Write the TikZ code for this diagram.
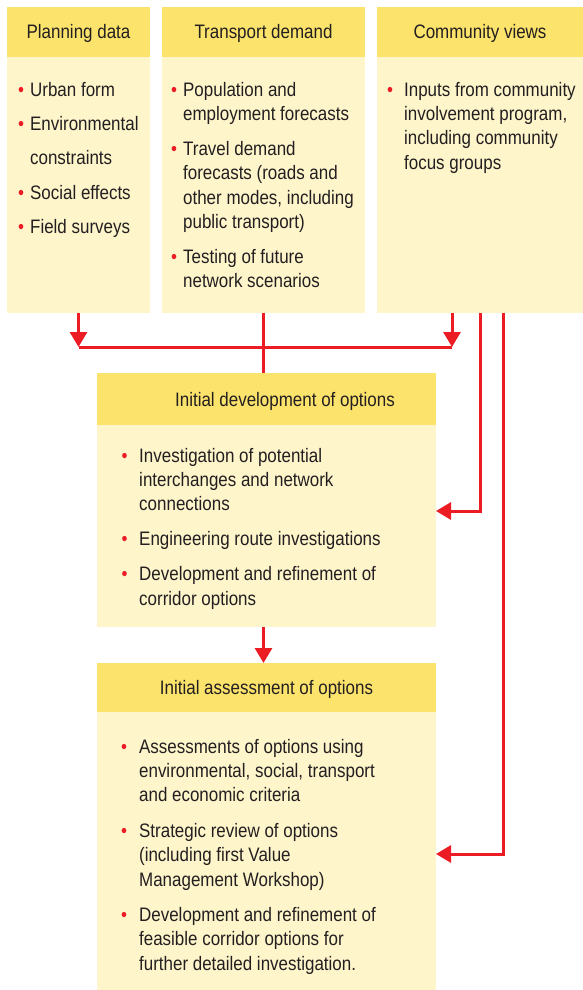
\documentclass[tikz,border=0pt]{standalone}
\usepackage{fontspec}
\setmainfont{Liberation Sans}[FakeStretch=0.87]
\usepackage{tikz}
\usetikzlibrary{arrows.meta,positioning}
\definecolor{headyellow}{HTML}{FCE36C}
\definecolor{bodyyellow}{HTML}{FEF5CB}
\definecolor{linered}{HTML}{EC1C24}
\definecolor{textgrey}{HTML}{231F20}
\tikzset{headbox/.style={fill=headyellow, inner sep=0pt, outer sep=0pt,
    anchor=north west, text=textgrey, text height=14pt, text depth=0pt}}
\tikzset{bodybox/.style={fill=bodyyellow, inner sep=0pt, outer sep=0pt,
    anchor=north west}}
\tikzset{listtext/.style={inner sep=0pt, anchor=base west, text=textgrey}}
\tikzset{link/.style={draw=linered, line width=3pt},
  flow/.style={link, -{Triangle[length=15pt,width=17pt]}}}
\newcommand{\bul}{\textcolor{linered}{\textbullet}}
\newcommand{\bulletlist}[2]{\begin{tabular}[t]{@{}l@{\hspace{#1}}l@{}}#2\end{tabular}}

\begin{document}
\begin{tikzpicture}[x=1pt,y=-1pt,font=\fontsize{19.5}{24.4}\selectfont]
  \useasboundingbox (0,0) rectangle (583,990);

  % three input columns
  \node[headbox, minimum width=143, minimum height=50] (planhead) at (7,7) {Planning data};
  \node[bodybox, minimum width=143, minimum height=256] (planbody) at (planhead.south west) {};
  \node[headbox, minimum width=203, minimum height=50] (demandhead) at (162,7) {Transport demand};
  \node[bodybox, minimum width=203, minimum height=256] (demandbody) at (demandhead.south west) {};
  \node[headbox, minimum width=206, minimum height=50] (viewshead) at (377,7) {Community views};
  \node[bodybox, minimum width=206, minimum height=256] (viewsbody) at (viewshead.south west) {};

  \node[listtext] (plantext) at (18,96) {\bulletlist{6pt}{
      \bul & Urban form\\[10pt]
      \bul & Environmental\\[10pt]
      & constraints\\[10pt]
      \bul & Social effects\\[10pt]
      \bul & Field surveys}};
  \node[listtext] (demandtext) at (171,96) {\bulletlist{6pt}{
      \bul & Population and\\
      & employment forecasts\\[10.5pt]
      \bul & Travel demand\\
      & forecasts (roads and\\
      & other modes, including\\
      & public transport)\\[10.5pt]
      \bul & Testing of future\\
      & network scenarios}};
  \node[listtext] (viewstext) at (387,96) {\bulletlist{11pt}{
      \bul & Inputs from community\\
      & involvement program,\\
      & including community\\
      & focus groups}};

  % option development
  \node[headbox, minimum width=339, minimum height=52] (devhead) at (97,373)
    {\hspace*{37pt}Initial development of options};
  \node[bodybox, minimum width=339, minimum height=202] (devbody) at (devhead.south west) {};
  \node[listtext] (devtext) at (121.5,462) {\bulletlist{11.6pt}{
      \bul & Investigation of potential\\
      & interchanges and network\\
      & connections\\[10.5pt]
      \bul & Engineering route investigations\\[10.5pt]
      \bul & Development and refinement of\\
      & corridor options}};

  % option assessment
  \node[headbox, minimum width=339, minimum height=49] (assesshead) at (97,663)
    {Initial assessment of options};
  \node[bodybox, minimum width=339, minimum height=278] (assessbody) at (assesshead.south west) {};
  \node[listtext] (assesstext) at (121,753) {\bulletlist{12pt}{
      \bul & Assessments of options using\\
      & environmental, social, transport\\
      & and economic criteria\\[11pt]
      \bul & Strategic review of options\\
      & (including first Value\\
      & Management Workshop)\\[11pt]
      \bul & Development and refinement of\\
      & feasible corridor options for\\
      & further detailed investigation.}};

  % connectors
  \coordinate (joinL) at (planbody.south |- 0,347);
  \coordinate (joinR) at (452,347);
  \draw[flow] (planbody.south) -- (joinL);
  \draw[flow] (viewsbody.south -| joinR) -- (joinR);
  \draw[link] (joinL) -- (joinR);
  \draw[link] (demandbody.south) -- (demandbody.south |- devhead.north);
  \draw[flow] (viewsbody.south) |- ([yshift=15pt]devbody.east);
  \draw[flow] ([xshift=23pt]viewsbody.south) |- ([yshift=-3pt]assessbody.east);
  \draw[flow] (devbody.south -| demandbody.south) -- (assesshead.north -| demandbody.south);
\end{tikzpicture}
\end{document}
